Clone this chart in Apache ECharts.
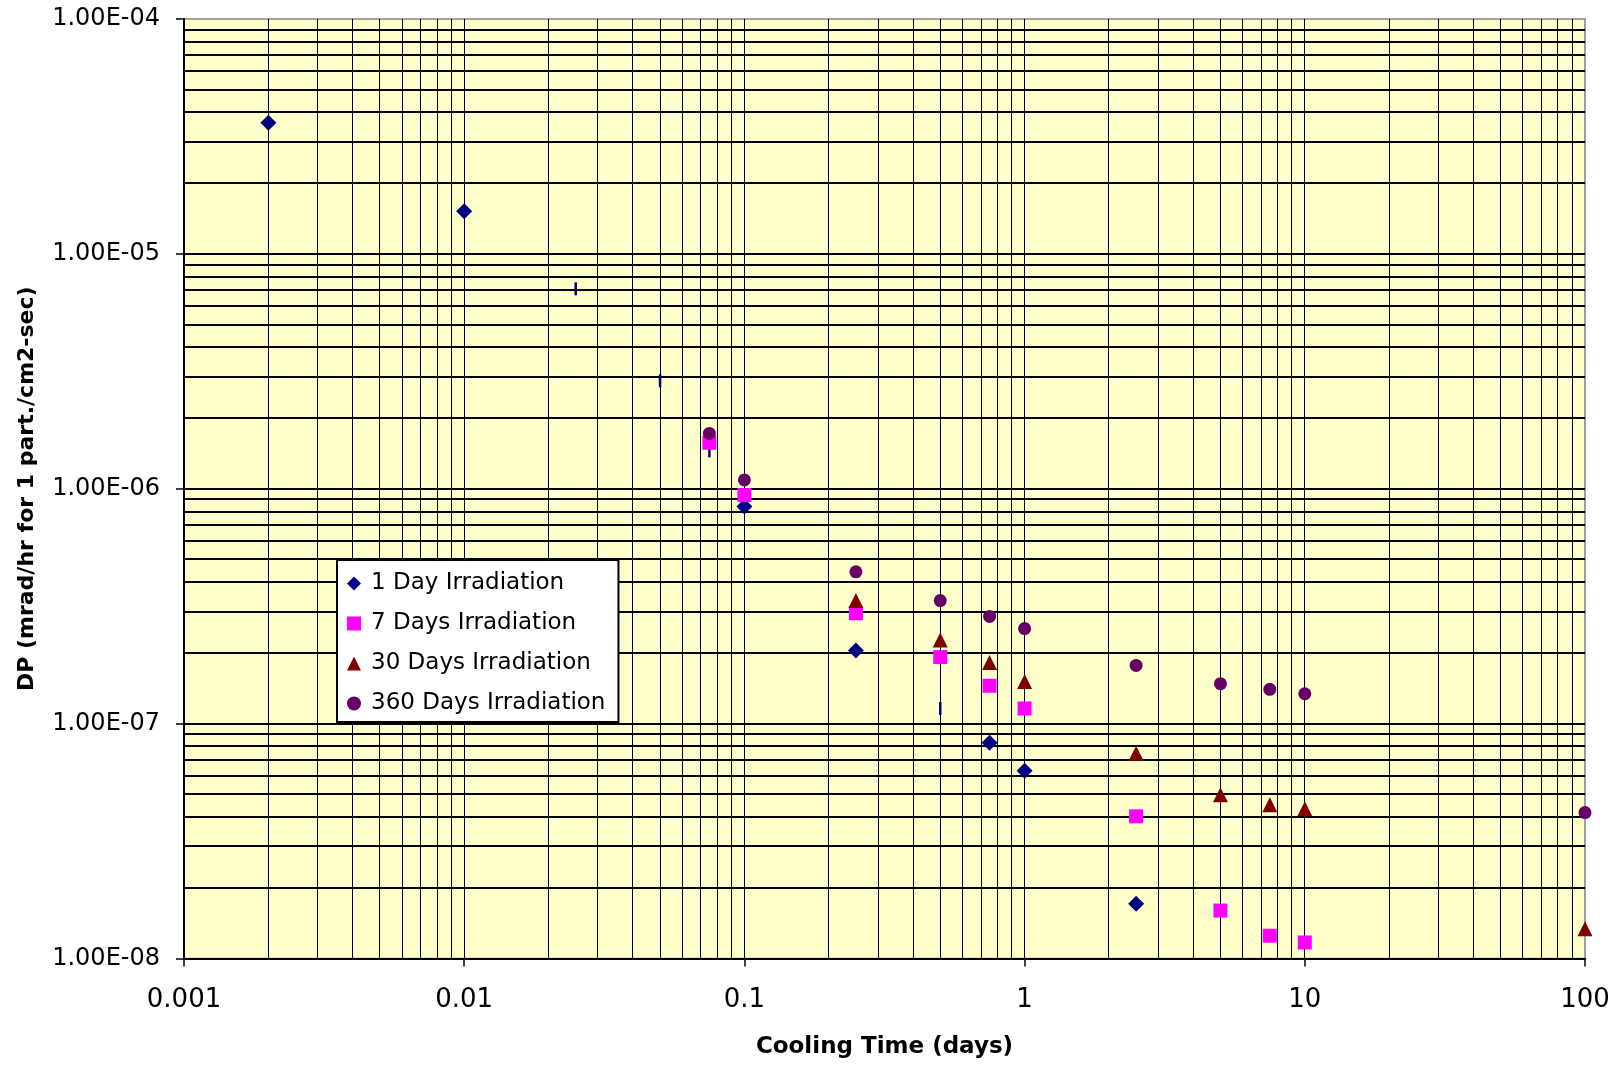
<!DOCTYPE html>
<html>
<head>
<meta charset="utf-8">
<script src="https://cdn.jsdelivr.net/npm/echarts@6/dist/echarts.min.js"></script>
<style>
  html, body { margin: 0; padding: 0; background: #ffffff; }
  #chart { width: 1616px; height: 1065px; }
</style>
</head>
<body>
<div id="chart"></div>
<script>
// ---------------- DATA ----------------
const coolingTimes = [0.002, 0.01, 0.025, 0.05, 0.075, 0.1, 0.25, 0.5, 0.75, 1, 2.5, 5, 7.5, 10, 100];

const oneDayIrradiation = [3.62e-5, 1.52e-5, 7.1e-6, 2.88e-6, 1.45e-6, 8.4e-7, 2.05e-7, 1.16e-7, 8.3e-8, 6.3e-8, 1.71e-8, null, null, null, null];
const sevenDaysIrradiation = [null, null, null, null, 1.57e-6, 9.4e-7, 2.95e-7, 1.92e-7, 1.45e-7, 1.16e-7, 4.03e-8, 1.60e-8, 1.25e-8, 1.17e-8, null];
const thirtyDaysIrradiation = [null, null, null, null, null, null, 3.34e-7, 2.27e-7, 1.82e-7, 1.51e-7, 7.48e-8, 4.98e-8, 4.51e-8, 4.34e-8, 1.34e-8];
const threeSixtyDaysIrradiation = [null, null, null, null, 1.72e-6, 1.09e-6, 4.43e-7, 3.34e-7, 2.86e-7, 2.54e-7, 1.77e-7, 1.48e-7, 1.40e-7, 1.34e-7, 4.18e-8];

const seriesNames = ['1 Day Irradiation', '7 Days Irradiation', '30 Days Irradiation', '360 Days Irradiation'];

const xTickValues = [0.001, 0.01, 0.1, 1, 10, 100];
const yTickValues = [1e-8, 1e-7, 1e-6, 1e-5, 1e-4];
const xTitle = 'Cooling Time (days)';
const yTitle = 'DP (mrad/hr for 1 part./cm2-sec)';

// ---------------- BUILD ----------------
// log grid lines at 1..9 × each decade (inside the plot only)
function logGridValues(ticks) {
  const out = [];
  for (let i = 0; i < ticks.length - 1; i++) {
    for (let m = 1; m <= 9; m++) {
      if (i === 0 && m === 1) continue;
      out.push(parseFloat((ticks[i] * m).toPrecision(6)));
    }
  }
  return out;
}
const xGrid = logGridValues(xTickValues);
const yGrid = logGridValues(yTickValues);

function pairs(values) {
  const d = [];
  values.forEach((v, i) => { if (v != null) d.push([coolingTimes[i], v]); });
  return d;
}

// points of the 1-day series that the original draws as thin vertical dashes
const dashAt = new Set([0.025, 0.05, 0.075, 0.5]);
const oneDayData = pairs(oneDayIrradiation).map(p =>
  dashAt.has(p[0]) ? { value: p, symbol: 'rect', symbolSize: [2.5, 13] } : p
);

function sciLabel(v) {
  const e = Math.round(Math.log10(v));
  const m = v / Math.pow(10, e);
  return m.toFixed(2) + 'E' + (e < 0 ? '-' : '+') + String(Math.abs(e)).padStart(2, '0');
}

const FONT = 'DejaVu Sans';
const chart = echarts.init(document.getElementById('chart'), null, { renderer: 'canvas' });

const option = {
  animation: false,
  backgroundColor: '#ffffff',
  grid: {
    left: 184, right: 31, top: 19, bottom: 106.5,
    show: true,
    backgroundColor: '#FFFFCC',
    borderColor: '#808080',
    borderWidth: 1.5,
    outerBoundsMode: 'none'
  },
  legend: {
    orient: 'vertical',
    left: 337, top: 560,
    padding: [12, 13, 7, 10],
    backgroundColor: '#ffffff',
    borderColor: '#000000',
    borderWidth: 2,
    borderRadius: 0,
    itemWidth: 14, itemHeight: 14,
    itemGap: 17,
    textStyle: { fontFamily: FONT, fontSize: 23, color: '#000', lineHeight: 23, padding: [0, 0, 0, 5] },
    data: [
      { name: seriesNames[0], icon: 'diamond' },
      { name: seriesNames[1], icon: 'rect' },
      { name: seriesNames[2], icon: 'triangle' },
      { name: seriesNames[3], icon: 'circle' }
    ]
  },
  xAxis: {
    type: 'log', logBase: 10, min: xTickValues[0], max: xTickValues[xTickValues.length - 1],
    name: xTitle, nameLocation: 'middle', nameGap: 77,
    nameTextStyle: { fontFamily: FONT, fontSize: 23, fontWeight: 'bold', color: '#000' },
    axisLine: { show: true, lineStyle: { color: '#000', width: 2 } },
    axisTick: { show: true, length: 8, inside: false, lineStyle: { color: '#000', width: 1.5 } },
    axisLabel: { margin: 29, fontFamily: FONT, fontSize: 26, color: '#000',
      formatter: v => String(parseFloat(Number(v).toPrecision(6))) },
    splitLine: { show: false }, minorTick: { show: false }, minorSplitLine: { show: false }
  },
  yAxis: {
    type: 'log', logBase: 10, min: yTickValues[0], max: yTickValues[yTickValues.length - 1],
    name: yTitle, nameLocation: 'middle', nameGap: 146, nameRotate: 90,
    nameTextStyle: { fontFamily: FONT, fontSize: 22, fontWeight: 'bold', color: '#000' },
    axisLine: { show: true, lineStyle: { color: '#000', width: 2 } },
    axisTick: { show: true, length: 8, inside: false, lineStyle: { color: '#000', width: 1.5 } },
    axisLabel: { margin: 24, fontFamily: FONT, fontSize: 24, color: '#000', formatter: v => sciLabel(v) },
    splitLine: { show: false }, minorTick: { show: false }, minorSplitLine: { show: false }
  },
  series: [
    {
      type: 'custom', name: 'hgrid', silent: true, z: 1,
      encode: { x: 0, y: 1 },
      data: yGrid.map(v => [1, v]),
      renderItem: function (params, api) {
        const p = api.coord([api.value(0), api.value(1)]);
        const cs = params.coordSys;
        const y = Math.round(p[1]);
        return { type: 'line', shape: { x1: cs.x, y1: y, x2: cs.x + cs.width, y2: y },
          style: { stroke: '#000', lineWidth: 2 } };
      }
    },
    {
      type: 'custom', name: 'vgrid', silent: true, z: 1,
      encode: { x: 0, y: 1 },
      data: xGrid.map(v => [v, 1e-6]),
      renderItem: function (params, api) {
        const p = api.coord([api.value(0), api.value(1)]);
        const cs = params.coordSys;
        const x = Math.round(p[0] - 0.5) + 0.5;
        return { type: 'line', shape: { x1: x, y1: cs.y, x2: x, y2: cs.y + cs.height },
          style: { stroke: '#000', lineWidth: 1 } };
      }
    },
    {
      type: 'scatter', name: seriesNames[0], z: 3,
      symbol: 'diamond', symbolSize: 16,
      itemStyle: { color: '#000080', opacity: 1 },
      data: oneDayData
    },
    {
      type: 'scatter', name: seriesNames[1], z: 3,
      symbol: 'rect', symbolSize: 14,
      itemStyle: { color: '#FF00FF', opacity: 1 },
      data: pairs(sevenDaysIrradiation)
    },
    {
      type: 'scatter', name: seriesNames[2], z: 3,
      symbol: 'triangle', symbolSize: 15,
      itemStyle: { color: '#800000', opacity: 1 },
      data: pairs(thirtyDaysIrradiation)
    },
    {
      type: 'scatter', name: seriesNames[3], z: 3,
      symbol: 'circle', symbolSize: 13,
      itemStyle: { color: '#660066', opacity: 1 },
      data: pairs(threeSixtyDaysIrradiation)
    }
  ]
};
chart.setOption(option);
</script>
</body>
</html>
